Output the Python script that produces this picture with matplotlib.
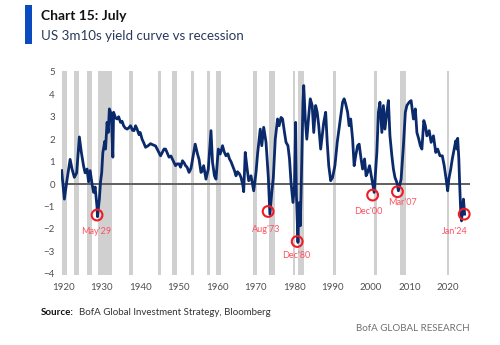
import matplotlib
matplotlib.use('Agg')
import matplotlib.pyplot as plt

plt.rcParams['font.family'] = ['Lato', 'DejaVu Sans']

# US 10y minus 3m spread, %
years = [1919.6, 1920.3, 1921.0, 1921.8, 1922.3, 1922.9, 1923.5, 1924.2, 1924.7, 1925.3,
         1925.7, 1926.2, 1926.6, 1927.0, 1927.5, 1927.9, 1928.3, 1928.8, 1928.9, 1929.4,
         1929.7, 1930.0, 1930.3, 1930.8, 1931.0, 1931.4, 1931.7, 1932.0, 1932.5, 1932.9,
         1933.1, 1933.6, 1934.0, 1934.4, 1934.9, 1935.3, 1935.7, 1936.1, 1936.6, 1937.0,
         1937.5, 1938.0, 1938.4, 1938.8, 1939.2, 1939.7, 1940.0, 1940.5, 1940.9, 1941.4,
         1942.0, 1942.7, 1943.3, 1944.0, 1944.6, 1945.3, 1946.2, 1946.6, 1947.0, 1947.5,
         1948.0, 1948.4, 1949.2, 1949.6, 1950.1, 1950.5, 1951.0, 1951.4, 1951.8, 1952.2,
         1952.7, 1953.2, 1953.6, 1954.3, 1954.9, 1955.3, 1955.8, 1956.0, 1956.5, 1957.1,
         1957.7, 1958.4, 1958.8, 1959.3, 1959.7, 1960.3, 1960.8, 1961.4, 1961.8, 1962.3,
         1962.8, 1963.2, 1963.6, 1964.0, 1964.5, 1964.9, 1965.3, 1965.8, 1966.2, 1966.7,
         1966.9, 1967.3, 1967.8, 1968.2, 1968.8, 1969.5, 1970.1, 1970.5, 1971.2, 1971.6,
         1972.1, 1972.7, 1973.3, 1973.7, 1974.2, 1974.6, 1975.1, 1975.7, 1976.1, 1976.6,
         1977.0, 1977.5, 1977.9, 1978.4, 1978.8, 1979.2, 1979.7, 1980.1, 1980.4, 1980.6,
         1980.8, 1981.0, 1981.2, 1981.4, 1981.6, 1981.8, 1982.0, 1982.3, 1982.5, 1982.9,
         1983.3, 1983.8, 1984.2, 1984.7, 1985.1, 1985.6, 1986.0, 1986.4, 1986.9, 1987.3,
         1987.7, 1988.2, 1988.6, 1989.0, 1989.5, 1990.0, 1990.6, 1991.2, 1991.9, 1992.6,
         1993.0, 1993.4, 1993.9, 1994.3, 1994.7, 1995.2, 1995.6, 1996.0, 1996.5, 1996.9,
         1997.4, 1997.8, 1998.3, 1998.7, 1999.1, 1999.6, 2000.2, 2000.8, 2001.5, 2001.9,
         2002.3, 2002.8, 2003.2, 2003.6, 2004.1, 2004.5, 2004.9, 2005.4, 2005.8, 2006.2,
         2006.7, 2007.1, 2007.8, 2008.4, 2008.9, 2009.3, 2009.9, 2010.4, 2011.0, 2011.5,
         2011.9, 2012.4, 2012.8, 2013.2, 2013.7, 2014.1, 2014.5, 2015.1, 2015.6, 2016.2,
         2016.8, 2017.3, 2017.9, 2018.5, 2019.0, 2019.5, 2019.9, 2020.2, 2020.7, 2021.1,
         2021.6, 2022.0, 2022.3, 2022.5, 2022.8, 2023.0, 2023.3, 2023.5, 2023.8, 2024.0,
         2024.3]
spread = [0.60, -0.67, 0.20, 1.10, 0.67, 0.30, 0.50, 2.10, 1.43, 0.80,
          0.50, 0.67, 0.10, 0.60, 0.00, -0.37, -0.13, -1.04, -1.45, -0.67,
          0.10, 0.50, 1.40, 1.90, 1.56, 2.75, 2.30, 3.35, 3.10, 1.20,
          3.20, 2.95, 2.90, 3.00, 2.75, 2.80, 2.60, 2.50, 2.45, 2.50,
          2.60, 2.40, 2.38, 2.60, 2.45, 2.20, 2.30, 2.00, 1.85, 1.64,
          1.70, 1.80, 1.75, 1.70, 1.50, 1.26, 1.56, 1.56, 1.40, 1.20,
          1.25, 1.10, 0.82, 0.90, 0.90, 0.75, 1.04, 0.95, 0.82, 0.75,
          0.52, 0.70, 1.10, 1.78, 1.34, 1.10, 0.52, 0.55, 0.82, 0.22,
          0.67, 2.38, 0.97, 0.37, 0.22, 1.56, 1.34, 1.71, 1.45, 1.26,
          1.35, 1.12, 1.00, 0.82, 0.60, 0.37, 0.55, 0.45, 0.30, -0.07,
          -0.34, 1.41, 0.67, 0.15, 0.37, -0.30, 0.52, 1.34, 2.45, 1.71,
          2.53, 1.86, 0.30, -1.34, -0.37, 0.30, 2.00, 2.90, 2.60, 2.97,
          2.90, 2.30, 1.86, 1.71, 1.12, 0.07, -0.82, -0.07, 2.75, -0.50,
          -1.56, -2.60, -1.00, -0.82, -1.86, -0.50, 1.12, 3.65, 4.39, 2.90,
          2.00, 3.05, 3.80, 3.50, 2.30, 3.50, 3.20, 2.60, 1.56, 2.15,
          2.75, 3.20, 1.86, 0.82, 0.15, 0.30, 0.82, 1.86, 2.75, 3.65,
          3.80, 3.57, 3.20, 2.60, 2.90, 2.00, 0.82, 1.26, 1.71, 1.78,
          1.12, 0.67, 1.12, 0.37, 0.52, 0.82, 0.22, -0.37, 1.41, 3.20,
          3.65, 2.30, 3.50, 2.45, 3.20, 3.72, 2.15, 1.26, 0.67, 0.30,
          0.07, -0.30, 0.22, 1.71, 3.20, 3.50, 3.65, 3.72, 2.90, 3.35,
          2.30, 2.00, 1.71, 1.56, 2.83, 2.60, 2.15, 2.38, 1.86, 2.15,
          1.41, 1.56, 1.26, 1.26, 0.82, 0.22, -0.30, 0.22, 0.67, 1.12,
          1.56, 1.93, 1.56, 2.04, 1.12, 0.07, -1.26, -1.64, -0.97, -0.67,
          -1.34]

# recession periods (start, end)
rec_start = [1919.6, 1922.9, 1926.3, 1929.1, 1937.0, 1944.7, 1948.4, 1953.2, 1957.3,
             1959.8, 1969.4, 1973.4, 1979.6, 1981.1, 1990.0, 2000.7, 2007.5, 2019.6]
rec_end = [1921.0, 1924.2, 1927.6, 1932.8, 1938.2, 1945.4, 1949.5, 1954.1, 1958.1,
           1960.9, 1970.4, 1975.0, 1980.2, 1982.6, 1990.8, 2001.6, 2009.2, 2020.2]

# inversion troughs marked with circles
mark_labels = ["May'29", "Aug'73", "Dec'80", "Dec'00", "Mar'07", "Jan'24"]
mark_x = [1928.8, 1973.25, 1980.8, 2000.4, 2006.85, 2024.2]
mark_y = [-1.38, -1.22, -2.56, -0.49, -0.34, -1.34]
label_x = [1928.7, 1972.8, 1980.6, 1999.2, 2008.2, 2021.75]
label_y = [-2.13, -2.04, -3.17, -1.24, -0.82, -2.13]

fig = plt.figure(figsize=(5, 3.45), dpi=100)
ax = fig.add_axes([0.121, 0.203, 0.829, 0.590])

for s, e in zip(rec_start, rec_end):
    ax.axvspan(s, e, color='#d0d0d0', lw=0, zorder=0)

ax.hlines(0, 1920, 2025.7, color='#5f5f5f', lw=1.4, zorder=1)
ax.plot(years, spread, color='#0b2a6b', lw=2.0, zorder=2)

ax.scatter(mark_x, mark_y, s=60, facecolors='none', edgecolors='#ee1c25', lw=1.5, zorder=3)
for t, x, y in zip(mark_labels, label_x, label_y):
    ax.text(x, y, t, color='#ff5060', fontsize=6.5, ha='center', va='center', zorder=3)

ax.set_xlim(1919.3, 2027)
ax.set_ylim(-4.05, 5.02)
ax.set_yticks(range(-4, 6))
ax.set_xticks(range(1920, 2030, 10))
for sp in ax.spines.values():
    sp.set_visible(False)
ax.tick_params(length=0, labelsize=7, colors='#505050', pad=4)
ax.tick_params(axis='x', pad=6)

# header
fig.patches.append(plt.Rectangle((0.050, 0.872), 0.014, 0.113, transform=fig.transFigure,
                                 color='#0a4cc0', lw=0))
fig.text(0.082, 0.953, 'Chart 15: July', fontsize=10, fontweight='bold', color='#111111',
         va='center')
fig.text(0.082, 0.895, 'US 3m10s yield curve vs recession', fontsize=9.6, color='#2a3a5a',
         va='center')

# footer
fig.text(0.082, 0.093, 'Source:', fontsize=7, fontweight='bold', color='#111111', va='center')
fig.text(0.158, 0.093, 'BofA Global Investment Strategy, Bloomberg', fontsize=7,
         color='#333333', va='center')
fig.text(0.940, 0.048, 'BofA GLOBAL RESEARCH', fontsize=7, color='#707070', ha='right',
         va='center')

fig.savefig('out.png', dpi=100)
